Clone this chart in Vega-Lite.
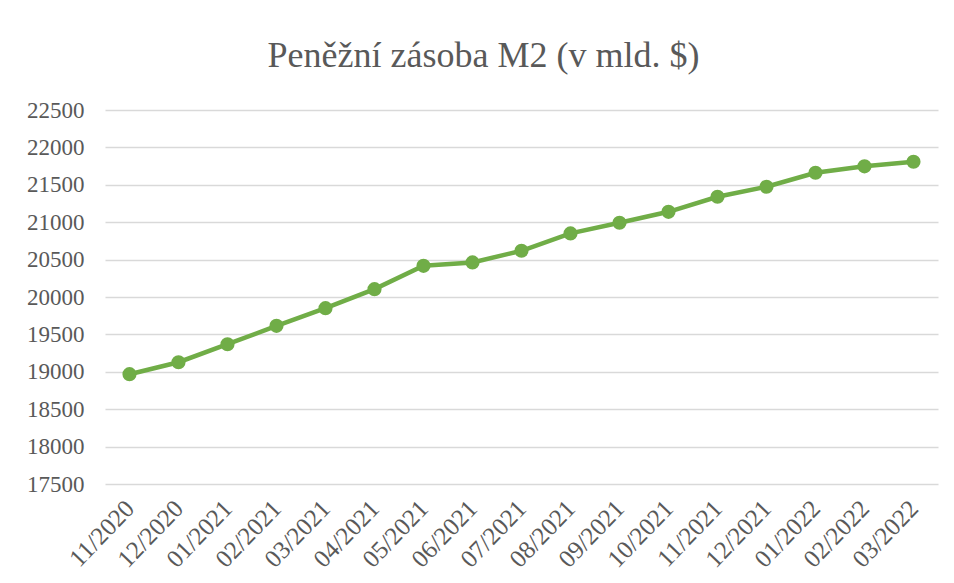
{
  "$schema": "https://vega.github.io/schema/vega-lite/v6.json",
  "autosize": "none",
  "width": 833,
  "height": 374,
  "padding": {"left": 105, "top": 110, "right": 16, "bottom": 99},
  "background": "white",
  "title": {
    "text": "Peněžní zásoba M2 (v mld. $)",
    "font": "Liberation Serif",
    "fontSize": 36,
    "fontWeight": "normal",
    "color": "#595959",
    "anchor": "middle",
    "dx": -38,
    "offset": 24
  },
  "data": {
    "values": [
      {"mesic": "11/2020", "m2": 18968},
      {"mesic": "12/2020", "m2": 19128},
      {"mesic": "01/2021", "m2": 19369},
      {"mesic": "02/2021", "m2": 19614},
      {"mesic": "03/2021", "m2": 19851},
      {"mesic": "04/2021", "m2": 20105},
      {"mesic": "05/2021", "m2": 20417},
      {"mesic": "06/2021", "m2": 20462},
      {"mesic": "07/2021", "m2": 20618},
      {"mesic": "08/2021", "m2": 20850},
      {"mesic": "09/2021", "m2": 20992},
      {"mesic": "10/2021", "m2": 21139},
      {"mesic": "11/2021", "m2": 21340},
      {"mesic": "12/2021", "m2": 21474},
      {"mesic": "01/2022", "m2": 21661},
      {"mesic": "02/2022", "m2": 21747},
      {"mesic": "03/2022", "m2": 21808}
    ]
  },
  "encoding": {
    "x": {
      "field": "mesic",
      "type": "nominal",
      "sort": null,
      "scale": {"type": "point", "padding": 0.5},
      "axis": {
        "title": null,
        "domain": false,
        "ticks": false,
        "labelAngle": -46,
        "labelAlign": "right",
        "labelBaseline": "middle",
        "labelPadding": 20,
        "labelFont": "Liberation Serif",
        "labelFontSize": 25,
        "labelColor": "#595959"
      }
    },
    "y": {
      "field": "m2",
      "type": "quantitative",
      "scale": {"domain": [17500, 22500], "nice": false, "zero": false},
      "axis": {
        "title": null,
        "values": [17500, 18000, 18500, 19000, 19500, 20000, 20500, 21000, 21500, 22000, 22500],
        "format": "d",
        "domain": false,
        "ticks": false,
        "labelPadding": 21,
        "labelFont": "Liberation Serif",
        "labelFontSize": 23,
        "labelColor": "#595959",
        "grid": true,
        "gridColor": "#D9D9D9",
        "gridWidth": 1.5
      }
    }
  },
  "layer": [
    {"mark": {"type": "line", "color": "#70AD47", "strokeWidth": 4.5}},
    {"mark": {"type": "point", "filled": true, "opacity": 1, "color": "#70AD47", "size": 200, "shape": "circle"}}
  ],
  "config": {"view": {"stroke": null}}
}
